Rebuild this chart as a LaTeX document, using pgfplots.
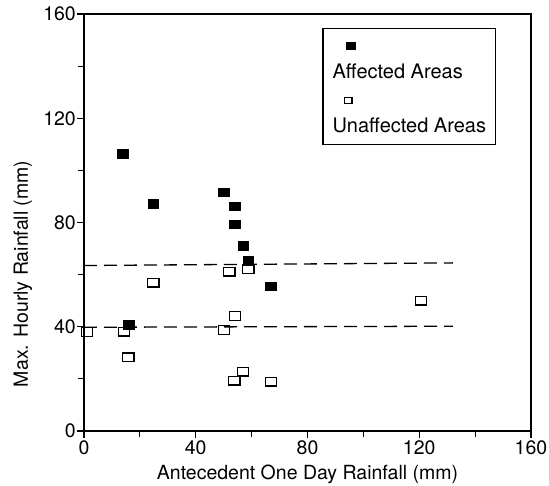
\documentclass[border=0pt]{standalone}
\usepackage{fontspec}
\setmainfont{TeX Gyre Heros}
\usepackage{pgfplots}
\pgfplotsset{compat=1.18}

% legend marks drawn over the text column
\pgfplotsset{
    markA/.style={legend image code/.code={\draw[##1,overlay,mark size=3.6pt] plot coordinates {(21pt,0pt)};}},
    markU/.style={legend image code/.code={\draw[##1,overlay,mark size=3pt] plot coordinates {(18pt,0pt)};}},
}

% rainfall data
\pgfplotstableread{
x y
13.8 106.3
24.8 87.1
50.1 91.6
53.9 86.3
53.9 79.3
57.0 71.1
58.8 65.6
66.8 55.6
15.9 40.7
}\affected

\pgfplotstableread{
x y
1.0 38.0
14.3 38.1
15.9 28.3
24.8 56.9
52.0 61.1
58.8 62.0
54.0 44.1
50.1 38.8
56.9 22.8
53.8 19.3
66.9 18.9
120.6 50.0
}\unaffected

\begin{document}
\begin{tikzpicture}
\fontsize{19.5}{23}\selectfont
\begin{axis}[
    scale only axis,
    width=447pt, height=417pt,
    xmin=0, xmax=160, ymin=0, ymax=160,
    xtick={0,40,...,160}, ytick={0,40,...,160},
    minor xtick={20,60,100,140}, minor ytick={20,60,100,140},
    xtick pos=bottom, ytick pos=left,
    tick align=outside,
    major tick length=7pt, minor tick length=6pt,
    every tick/.style={black, line width=1.2pt},
    axis line style={line width=1.5pt},
    tick label style={font=\fontsize{19.5}{23}\selectfont},
    /pgf/number format/assume math mode=true,
    xticklabel style={inner sep=2pt},
    yticklabel style={inner sep=1pt},
    xlabel={Antecedent One Day Rainfall (mm)},
    ylabel={Max. Hourly Rainfall (mm)},
    every axis x label/.style={at={(axis description cs:0.5,-0.103)}, anchor=center},
    every axis y label/.style={at={(axis description cs:-0.137,0.377)}, anchor=center, rotate=90},
    label style={font=\fontsize{19.5}{23}\selectfont},
    clip=false,
    legend style={at={(axis description cs:0.922,0.966)}, anchor=north east,
        draw=black, line width=1.2pt, column sep=0pt, row sep=6pt,
        inner xsep=7pt, inner ysep=7pt,
        nodes={font=\fontsize{20}{24}\selectfont, text height=14pt, text depth=4pt, inner xsep=2.5pt, inner ysep=1.5pt}},
    legend cell align=left,
]
\addplot[only marks, mark=square*, mark size=4.3pt, mark options={xscale=1.25, fill=black, draw=black}, markA]
    table[x=x,y=y] {\affected};
\addlegendentry{\phantom{A}}
\addlegendimage{empty legend}
\addlegendentry{Affected Areas}

\addplot[only marks, mark=square, mark size=4.3pt, mark options={xscale=1.3, draw=black, line width=1.3pt}, markU]
    table[x=x,y=y] {\unaffected};
\addlegendentry{\phantom{A}}
\addlegendimage{empty legend}
\addlegendentry{Unaffected Areas}

\addplot[forget plot, black, line width=1.3pt, dash pattern=on 13pt off 7pt] coordinates {(0,63.5) (132,64.5)};
\addplot[forget plot, black, line width=1.3pt, dash pattern=on 13pt off 7pt] coordinates {(0,39.8) (132,40.2)};
\end{axis}
\pgfresetboundingbox
\path (current axis.south west) ++(-84pt,-54pt) rectangle ++(549pt,485pt);
\end{tikzpicture}
\end{document}
